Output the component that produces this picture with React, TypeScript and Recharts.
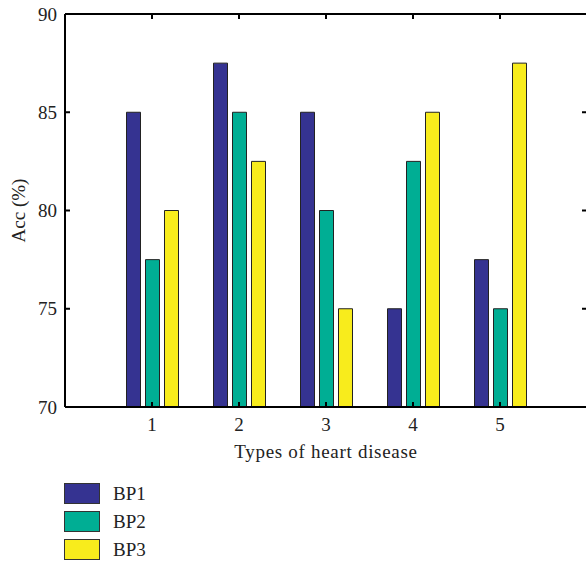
import React from 'react';
import { BarChart, Bar, XAxis, YAxis, Legend } from 'recharts';

const categories = ['1', '2', '3', '4', '5'];
const bp1 = [85, 87.5, 85, 75, 77.5];
const bp2 = [77.5, 85, 80, 82.5, 75];
const bp3 = [80, 82.5, 75, 85, 87.5];
const yTicks = [70, 75, 80, 85, 90];
const seriesNames = ['BP1', 'BP2', 'BP3'];
const seriesColors = ['#353391', '#00ae94', '#f8ec1c'];

const data = categories.map((c, i) => ({
  name: c,
  [seriesNames[0]]: bp1[i],
  [seriesNames[1]]: bp2[i],
  [seriesNames[2]]: bp3[i],
}));

const CHART_W = 600;
const CHART_H = 567;
const MARGIN = { top: 14, right: 13, bottom: 100, left: 0 };
const PLOT_TOP = MARGIN.top;
const PLOT_RIGHT = CHART_W - MARGIN.right;
const TICK_LEN = 5;
const X_TICK_MARGIN = 11;
const Y_TICK_MARGIN = 8;

const FONT = '"Liberation Serif", "DejaVu Serif", serif';
const tickStyle = { fontFamily: FONT, fontSize: 19, fill: '#222' };

const XTick = (props: any) => {
  const { x, y, payload } = props;
  const axisY = y - X_TICK_MARGIN;
  return (
    <g>
      <line x1={x} x2={x} y1={axisY} y2={axisY - TICK_LEN} stroke="#000" strokeWidth={2} />
      <line x1={x} x2={x} y1={PLOT_TOP} y2={PLOT_TOP + TICK_LEN} stroke="#000" strokeWidth={2} />
      <text x={x} y={y} dy="0.71em" textAnchor="middle" style={tickStyle}>
        {payload.value}
      </text>
    </g>
  );
};

const YTick = (props: any) => {
  const { x, y, payload } = props;
  const axisX = x + Y_TICK_MARGIN;
  return (
    <g>
      <line x1={axisX} x2={axisX + TICK_LEN} y1={y} y2={y} stroke="#000" strokeWidth={2} />
      <line x1={PLOT_RIGHT - TICK_LEN} x2={PLOT_RIGHT} y1={y} y2={y} stroke="#000" strokeWidth={2} />
      <text x={x} y={y} dy="0.355em" textAnchor="end" style={tickStyle}>
        {payload.value}
      </text>
    </g>
  );
};

const renderLegend = (props: any) => {
  const { payload } = props;
  return (
    <div style={{ fontFamily: FONT, fontSize: 19, color: '#222' }}>
      {(payload || []).map((p: any) => (
        <div key={p.value} style={{ display: 'flex', alignItems: 'center', height: 28 }}>
          <div
            style={{
              width: 36,
              height: 21,
              boxSizing: 'border-box',
              background: p.color,
              border: '1.5px solid #333',
            }}
          />
          <span style={{ marginLeft: 13 }}>{p.value}</span>
        </div>
      ))}
    </div>
  );
};

export default function App() {
  return (
    <div style={{ position: 'absolute', left: 0, top: 0, width: 586, height: 567, overflow: 'hidden', background: '#fff' }}>
      <BarChart
        width={CHART_W}
        height={CHART_H}
        data={data}
        margin={MARGIN}
        barSize={14}
        barGap={5}
      >
        {seriesNames.map((s, i) => (
          <Bar key={s} dataKey={s} fill={seriesColors[i]} stroke="#222" strokeWidth={1} isAnimationActive={false} />
        ))}
        <XAxis
          xAxisId="top"
          dataKey="name"
          padding={{ left: 43.5, right: 43.5 }}
          orientation="top"
          mirror
          tick={false}
          tickLine={false}
          axisLine={{ stroke: '#000', strokeWidth: 2 }}
        />
        <YAxis
          yAxisId="right"
          domain={[70, 90]}
          ticks={yTicks}
          orientation="right"
          mirror
          tick={false}
          tickLine={false}
          axisLine={{ stroke: '#000', strokeWidth: 2 }}
        />
        <XAxis
          dataKey="name"
          padding={{ left: 43.5, right: 43.5 }}
          height={60}
          tickLine={false}
          tickSize={0}
          tickMargin={X_TICK_MARGIN}
          axisLine={{ stroke: '#000', strokeWidth: 2 }}
          tick={<XTick />}
          label={{ value: 'Types of heart disease', position: 'insideBottom', offset: 9, style: { ...tickStyle, letterSpacing: 0.7 } }}
        />
        <YAxis
          domain={[70, 90]}
          ticks={yTicks}
          width={65}
          tickLine={false}
          tickSize={0}
          tickMargin={Y_TICK_MARGIN}
          axisLine={{ stroke: '#000', strokeWidth: 2 }}
          tick={<YTick />}
          label={{ value: 'Acc (%)', angle: -90, position: 'insideLeft', offset: 18, style: { ...tickStyle, textAnchor: 'middle' } }}
        />
        <Legend
          layout="vertical"
          align="center"
          verticalAlign="middle"
          content={renderLegend}
          wrapperStyle={{ left: 64, top: 479.5, width: 'auto', height: 'auto' }}
        />
      </BarChart>
    </div>
  );
}
